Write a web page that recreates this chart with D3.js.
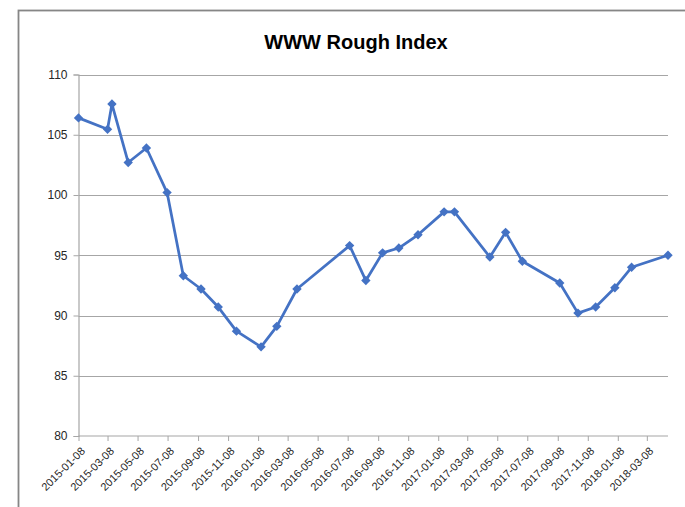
<!DOCTYPE html>
<html><head><meta charset="utf-8">
<script src="https://cdn.jsdelivr.net/npm/d3@7"></script>
<style>
html,body{margin:0;padding:0;background:#fff;}
svg{display:block;}
</style></head>
<body>
<svg id="c" width="685" height="507"></svg>
<script>
const title = "WWW Rough Index";
const dates = ["2015-01-08","2015-03-08","2015-03-17","2015-04-19","2015-05-26","2015-07-07","2015-08-09","2015-09-14","2015-10-19","2015-11-25","2016-01-14","2016-02-15","2016-03-27","2016-07-12","2016-08-14","2016-09-17","2016-10-20","2016-11-28","2017-01-20","2017-02-10","2017-04-23","2017-05-25","2017-06-28","2017-09-12","2017-10-19","2017-11-24","2018-01-02","2018-02-05","2018-04-20"];
const values = [106.4,105.45,107.55,102.7,103.9,100.2,93.3,92.2,90.7,88.7,87.4,89.1,92.2,95.8,92.9,95.2,95.6,96.7,98.6,98.6,94.85,96.9,94.5,92.7,90.2,90.7,92.3,94.0,95.0];
const xTickLabels = ["2015-01-08","2015-03-08","2015-05-08","2015-07-08","2015-09-08","2015-11-08","2016-01-08","2016-03-08","2016-05-08","2016-07-08","2016-09-08","2016-11-08","2017-01-08","2017-03-08","2017-05-08","2017-07-08","2017-09-08","2017-11-08","2018-01-08","2018-03-08"];
const yTicks = [80,85,90,95,100,105,110];

const parse = d3.utcParse("%Y-%m-%d");
const data = dates.map((d,i)=>({date:parse(d), value:values[i]}));

const svg = d3.select("#c");
const mLeft = 78.5, mRight = 668, mTop = 74.5, mBottom = 436;

// outer chart frame
svg.append("rect").attr("x",18.5).attr("y",10.5).attr("width",720).attr("height",540)
  .attr("fill","#fff").attr("stroke","#868686").attr("stroke-width",1.8);

const x = d3.scaleUtc().domain([data[0].date, data[data.length-1].date]).range([mLeft, mRight]);
const y = d3.scaleLinear().domain([80,110]).range([mBottom, mTop]);

// gridlines
svg.append("g").selectAll("line").data(yTicks.filter(v=>v>80)).join("line")
  .attr("x1",mLeft).attr("x2",mRight)
  .attr("y1",d=>Math.round(y(d))+0.5).attr("y2",d=>Math.round(y(d))+0.5)
  .attr("stroke","#a6a6a6").attr("stroke-width",1.2);

// y axis
const yAxis = d3.axisLeft(y).tickValues(yTicks).tickSize(5).tickPadding(6);
const gy = svg.append("g").attr("transform",`translate(${mLeft},0)`).call(yAxis);
gy.select(".domain").attr("stroke","#a6a6a6").attr("stroke-width",1.2);
gy.selectAll(".tick line").attr("stroke","#a6a6a6");
gy.selectAll("text").attr("font-family","Liberation Sans, Arial, sans-serif")
  .attr("font-size","12px").attr("fill","#262626");

// x axis
const xAxis = d3.axisBottom(x).tickValues(xTickLabels.map(parse)).tickSize(5)
  .tickFormat(d3.utcFormat("%Y-%m-%d"));
const gx = svg.append("g").attr("transform",`translate(0,${mBottom})`).call(xAxis);
gx.select(".domain").attr("stroke","#a6a6a6").attr("stroke-width",1.2).attr("d",`M${mLeft},0H${mRight}`);
gx.selectAll(".tick line").attr("stroke","#a6a6a6");
gx.selectAll("text")
  .attr("font-family","Liberation Sans, Arial, sans-serif").attr("font-size","11px").attr("fill","#262626")
  .attr("text-anchor","end").attr("y",0).attr("dy","0.35em")
  .attr("transform","translate(4,13) rotate(-45)");

// line
const line = d3.line().x(d=>x(d.date)).y(d=>y(d.value));
svg.append("path").datum(data).attr("d",line).attr("fill","none")
  .attr("stroke","#4472C4").attr("stroke-width",2.75).attr("stroke-linejoin","round");

// markers
const sym = d3.symbol().type(d3.symbolSquare).size(44);
svg.append("g").selectAll("path").data(data).join("path")
  .attr("d",sym).attr("fill","#4472C4")
  .attr("transform",d=>`translate(${x(d.date)},${y(d.value)}) rotate(45)`);

// title
svg.append("text").attr("x",356).attr("y",49).attr("text-anchor","middle")
  .attr("font-family","Liberation Sans, Arial, sans-serif").attr("font-weight","bold")
  .attr("font-size","20px").attr("fill","#000").text(title);
</script>
</body></html>
